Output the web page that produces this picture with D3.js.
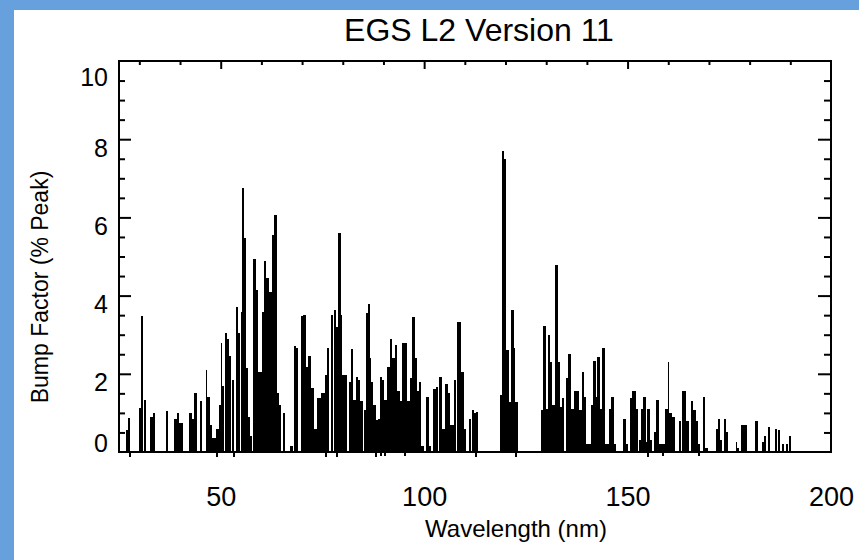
<!DOCTYPE html>
<html>
<head>
<meta charset="utf-8">
<script src="https://cdn.jsdelivr.net/npm/d3@7"></script>
<style>
  body { margin: 0; background: #fff; }
  svg text { font-family: "Liberation Sans", Arial, Helvetica, sans-serif; fill: #000; }
</style>
</head>
<body>
<div id="container"></div>
<script>
let w = 859;
let h = 560;

// wavelength (nm) of each bin and its bump factor (% peak)
let wavelengths = [
  26.9, 27.5, 30.2, 30.6, 31.4, 32.8, 33.3, 33.6, 36.9, 38.8, 39.5, 40.0, 40.4,
  42.4, 42.9, 43.3, 43.8, 45.1, 46.6, 47.0, 47.5, 48.2, 48.6, 49.0, 49.4, 49.8,
  50.3, 50.6, 51.4, 51.8, 52.3, 53.1, 53.9, 54.4, 55.2, 55.6, 56.0, 56.5, 57.0,
  57.4, 58.2, 58.8, 59.5, 59.9, 60.5, 60.9, 61.5, 62.1, 62.8, 63.3, 63.7, 64.1,
  64.6, 65.6, 67.4, 68.3, 68.7, 69.9, 70.5, 71.1, 71.8, 72.4, 72.8, 73.2, 73.6,
  74.0, 74.4, 74.8, 75.2, 75.6, 76.0, 76.4, 77.3, 78.1, 78.7, 79.2, 79.8, 80.1,
  80.5, 80.9, 81.8, 82.3, 82.8, 83.4, 84.1, 84.6, 85.5, 85.9, 86.4, 86.9, 87.3,
  87.8, 88.3, 88.8, 89.3, 90.0, 90.4, 91.1, 91.8, 92.4, 93.1, 93.6, 94.2, 94.9,
  95.5, 96.1, 96.7, 97.3, 97.9, 98.6, 99.0, 99.6, 100.8, 101.4, 102.4, 103.1,
  103.9, 104.6, 105.0, 105.4, 106.0, 106.5, 107.2, 107.6, 108.4, 108.8, 109.4,
  110.1, 111.3, 112.1, 112.6, 113.1, 118.8, 119.3, 119.8, 120.4, 121.1, 121.6,
  122.3, 122.7, 128.9, 129.4, 130.1, 130.6, 131.1, 131.7, 132.4, 133.1, 133.7,
  134.2, 135.0, 135.7, 136.3, 137.0, 137.6, 138.3, 139.0, 139.5, 140.1, 140.5,
  141.2, 141.7, 142.4, 142.8, 143.5, 144.0, 144.4, 144.7, 145.1, 145.8, 146.2,
  146.8, 149.1, 149.8, 150.8, 151.4, 151.8, 152.2, 153.0, 153.5, 154.0, 154.7,
  155.1, 155.5, 155.8, 156.8, 157.3, 157.7, 157.9, 158.6, 159.0, 159.4, 160.1,
  160.5, 161.1, 161.5, 162.9, 163.7, 164.1, 164.5, 164.9, 165.8, 166.4, 167.0,
  167.5, 168.8, 169.4, 171.9, 172.5, 173.0, 174.0, 174.5, 176.8, 177.2, 178.1,
  178.6, 179.0, 181.5, 181.9, 183.2, 183.8, 184.7, 186.5, 187.3, 188.1, 189.1,
  189.9
];
let bumpFactor = [
  0.56, 0.88, 1.13, 3.49, 1.33, 0.90, 0.90, 1.00, 1.05, 0.85, 1.00, 0.75, 0.75,
  1.00, 1.00, 0.85, 1.50, 1.30, 2.10, 1.40, 0.70, 0.35, 0.35, 0.60, 0.60, 1.20,
  2.80, 1.70, 3.05, 2.90, 2.46, 1.84, 3.70, 3.04, 3.59, 6.76, 5.47, 2.15, 0.90,
  0.40, 4.93, 4.14, 2.05, 2.05, 3.59, 4.88, 4.46, 4.09, 5.55, 6.06, 6.06, 1.50,
  1.20, 1.00, 0.15, 2.72, 2.65, 3.47, 3.50, 2.18, 2.45, 1.63, 1.63, 0.60, 0.60,
  1.37, 1.37, 1.50, 1.50, 1.50, 1.96, 2.65, 3.50, 3.63, 3.20, 5.61, 3.50, 1.96,
  1.96, 1.96, 1.80, 2.63, 1.33, 1.93, 1.85, 1.30, 1.07, 3.55, 3.78, 2.40, 1.80,
  1.20, 0.82, 0.85, 1.93, 1.85, 1.33, 2.18, 2.90, 2.40, 2.73, 1.55, 1.30, 2.78,
  2.80, 1.30, 1.90, 3.46, 2.40, 1.55, 1.80, 0.15, 1.41, 0.15, 1.60, 1.65,
  1.93, 0.60, 0.60, 1.75, 1.50, 0.70, 0.70, 1.85, 3.33, 3.33, 2.04,
  0.60, 0.85, 1.07, 1.00, 1.02, 1.45, 7.70, 7.50, 2.60, 1.27, 3.63,
  2.65, 1.27, 1.07, 3.22, 1.10, 3.00, 2.30, 1.20, 4.78, 2.30, 1.15,
  1.37, 1.90, 2.50, 1.10, 1.55, 1.55, 1.07, 2.05, 1.40, 0.20, 0.20,
  1.20, 2.33, 1.40, 2.44, 1.10, 2.65, 2.65, 0.20, 0.20, 1.10, 1.40,
  0.20, 0.85, 0.20, 1.37, 1.57, 1.57, 1.10, 0.30, 1.10, 1.41, 0.25,
  1.10, 1.10, 0.30, 0.50, 1.33, 1.33, 0.20, 0.20, 0.20, 1.10, 2.31,
  1.00, 0.90, 0.90, 0.80, 1.55, 1.55, 0.80, 0.80, 1.30, 1.07, 0.80,
  0.20, 1.40, 0.10, 0.60, 0.85, 0.30, 0.85, 0.50, 0.25, 0.10, 0.68,
  0.68, 0.68, 0.80, 0.80, 0.25, 0.40, 0.65, 0.60, 0.55, 0.20, 0.20,
  0.40
];
// short excursions below zero
let dipNm = [27.7, 49.1, 53.3, 76.0, 78.5, 88.1, 89.3, 90.4, 95.3, 112.7, 122.5, 155.0, 158.6, 167.5];
let dipVal = [-0.14, -0.12, -0.12, -0.12, -0.12, -0.12, -0.10, -0.10, -0.10, -0.12, -0.12, -0.14, -0.10, -0.10];

let xTickLabels = [50, 100, 150, 200];
let yTickLabels = [0, 2, 4, 6, 8, 10];

let viz = d3.select("#container")
  .append("svg")
    .attr("width", w)
    .attr("height", h)
;

// blue border and white panel
viz.append("rect").attr("width", w).attr("height", h).attr("fill", "#66a0dd");
viz.append("rect").attr("x", 14).attr("y", 10).attr("width", w - 14).attr("height", h - 10).attr("fill", "#fff");

let padL = 119, padR = 831, padT = 61, padB = 452;

let xScale = d3.scaleLinear().domain([25, 200]).range([padL, padR]);
let yScale = d3.scaleLinear().domain([0, 10]).range([padB, padT]);

let binW = xScale(25.5) - xScale(25);

//bars - each one runs up to the next bin when they are close
let graphGroup = viz.append("g").classed("graphGroup", true).attr("shape-rendering", "crispEdges");

let data = wavelengths.map((d, i) => ({nm: d, v: bumpFactor[i], next: wavelengths[i + 1]}));
graphGroup.selectAll(".bar").data(data).enter()
  .append("rect")
    .attr("class", "bar")
    .attr("x", d => xScale(d.nm) - binW / 2)
    .attr("y", d => yScale(d.v))
    .attr("width", d => (d.next && d.next - d.nm <= 0.75) ? xScale(d.next) - xScale(d.nm) : binW)
    .attr("height", d => yScale(0) - yScale(d.v))
    .attr("fill", "#000")
;

let dips = dipNm.map((d, i) => ({nm: d, v: dipVal[i]}));
graphGroup.selectAll(".dip").data(dips).enter()
  .append("rect")
    .attr("class", "dip")
    .attr("x", d => xScale(d.nm) - 1)
    .attr("y", yScale(0))
    .attr("width", 2)
    .attr("height", d => yScale(d.v) - yScale(0))
    .attr("fill", "#000")
;

function tidy(g){
  g.select(".domain").remove();
  g.selectAll("line").attr("stroke", "#000").attr("stroke-width", 2);
}

let yMinor = d3.range(0.5, 10, 0.5).filter(v => v % 2 !== 0);
let xMinor = d3.range(30, 200, 10).filter(v => v % 50 !== 0);

//left axis, ticks inward
viz.append("g").attr("transform", "translate(" + padL + ",0)")
  .call(d3.axisRight(yScale).tickValues(yMinor).tickSize(6).tickFormat("")).call(tidy);
viz.append("g").attr("transform", "translate(" + padL + ",0)")
  .call(d3.axisRight(yScale).tickValues([2, 4, 6, 8]).tickSize(12).tickFormat("")).call(tidy);

//y labels
let yLab = viz.append("g").attr("transform", "translate(" + padL + ",0)")
  .call(d3.axisLeft(yScale).tickValues(yTickLabels).tickSize(0).tickPadding(11))
  .call(tidy);
yLab.selectAll("text")
  .attr("font-size", 25)
  .attr("dy", d => d === 0 ? "-0.02em" : d === 10 ? "0.98em" : "0.68em");

//right axis
viz.append("g").attr("transform", "translate(" + padR + ",0)")
  .call(d3.axisLeft(yScale).tickValues(yMinor).tickSize(7).tickFormat("")).call(tidy);
viz.append("g").attr("transform", "translate(" + padR + ",0)")
  .call(d3.axisLeft(yScale).tickValues([2, 4, 6, 8]).tickSize(13).tickFormat("")).call(tidy);

//top axis
viz.append("g").attr("transform", "translate(0," + padT + ")")
  .call(d3.axisBottom(xScale).tickValues(xMinor).tickSize(4).tickFormat("")).call(tidy);
viz.append("g").attr("transform", "translate(0," + padT + ")")
  .call(d3.axisBottom(xScale).tickValues([50, 100, 150]).tickSize(8).tickFormat("")).call(tidy);

//x labels
let xLab = viz.append("g").attr("transform", "translate(0," + padB + ")")
  .call(d3.axisBottom(xScale).tickValues(xTickLabels).tickSize(0).tickPadding(35))
  .call(tidy);
xLab.selectAll("text").attr("font-size", 27);

//frame
viz.append("rect")
  .attr("x", padL).attr("y", padT)
  .attr("width", padR - padL).attr("height", padB - padT)
  .attr("fill", "none").attr("stroke", "#000").attr("stroke-width", 2);

//titles
viz.append("text").attr("x", 479).attr("y", 41).attr("text-anchor", "middle")
  .attr("font-size", 32).text("EGS L2 Version 11");
viz.append("text").attr("x", 516).attr("y", 537).attr("text-anchor", "middle")
  .attr("font-size", 24).text("Wavelength (nm)");
viz.append("text").attr("transform", "translate(48,287) rotate(-90)").attr("text-anchor", "middle")
  .attr("font-size", 23).text("Bump Factor (% Peak)");
</script>
</body>
</html>
